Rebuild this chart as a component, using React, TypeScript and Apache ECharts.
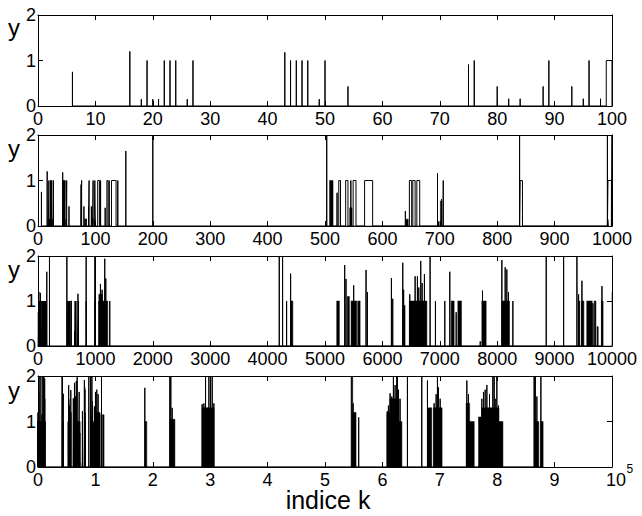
import React, { useEffect, useRef } from 'react';
import * as echarts from 'echarts';

// [start, end, height] : a pulse of the signal y(k)
type Pulse = [number, number, number];

// ---- Signal, detail level 0..100 (visible in panel 1)
const PULSES_0_100: Pulse[] = [
  [6, 6, 0.75], [16, 16, 1.2], [18, 18, 0.15], [19, 19, 1], [20, 20, 0.15], [21, 21, 0.15],
  [22, 22, 1], [23, 23, 1], [24, 24, 1], [26, 26, 0.15], [27, 27, 1], [43, 43, 1.18],
  [44, 44, 1], [45, 45, 1], [46, 46, 1], [47, 47, 1], [49, 49, 0.15], [50, 50, 1],
  [54, 54, 0.43], [75, 75, 0.91], [76, 76, 1], [80, 80, 0.43], [82, 82, 0.16], [84, 84, 0.16],
  [88, 88, 0.43], [89, 89, 1], [93, 93, 0.43], [95, 95, 0.16], [96, 96, 1], [98, 98, 0.16],
  [99, 100, 1],
];

// ---- Signal, detail level 100..1000 (panel 2)
const PULSES_100_1000: Pulse[] = [
  [104, 107, 1], [109, 109, 1], [117, 117, 0.4], [120, 122, 1], [124, 124, 1], [128, 136, 1],
  [139, 139, 1], [153, 153, 1.65], [200, 200, 2], [503, 503, 2], [521, 521, 0.73], [524, 527, 1],
  [536, 540, 1], [545, 545, 1], [549, 554, 1], [569, 583, 1], [640, 640, 0.33], [647, 651, 1],
  [653, 657, 1], [660, 665, 1], [696, 696, 1.16], [703, 703, 0.59], [706, 706, 1], [839, 839, 2],
  [840, 844, 1], [992, 992, 2], [993, 999, 1], [1000, 1000, 2],
];
const FILLS_100_1000: Pulse[] = [
  [508, 514, 1], [543, 547, 0.4], [641, 645, 0.15], [697, 699, 0.1], [701, 704, 0.55], [993, 994, 0.15],
];

// ---- Signal, detail level 1000..10000 (panel 3)
const PULSES_1E3_1E4: Pulse[] = [
  [1064, 1064, 1.0], [1088, 1088, 1.38], [1117, 1117, 1.25], [1163, 1163, 1.94], [1181, 1181, 1.5],
  [1250, 1250, 1.0], [4203, 4203, 2], [4261, 4261, 2], [4331, 4331, 1.0], [4401, 4401, 1.61],
  [5343, 5343, 1.8], [5366, 5366, 1.49], [5500, 5500, 1.35], [5715, 5715, 1.69], [5738, 5738, 1.2],
  [6157, 6157, 1.51], [6180, 6180, 1.05], [6355, 6355, 1.85], [6370, 6370, 1.25], [6477, 6477, 1.15],
  [6570, 6570, 1.55], [6610, 6610, 1.55], [6634, 6634, 1.3], [6668, 6668, 1.89], [6692, 6692, 1.4],
  [6732, 6732, 1.6], [6831, 6831, 2], [6924, 6924, 1.0], [7087, 7087, 1.0], [7174, 7174, 1.65],
  [7285, 7285, 0.75], [7744, 7744, 1.23], [8081, 8081, 1.91], [8139, 8139, 1.75], [8168, 8168, 1.7],
  [8197, 8197, 1.2], [8273, 8273, 1.0], [8854, 8854, 2], [9157, 9157, 2], [9389, 9389, 2],
  [9418, 9418, 1.15], [9476, 9476, 1.45], [9668, 9668, 0.95], [9825, 9825, 1.33],
];
const FILLS_1E3_1E4: Pulse[] = [
  [1060, 1120, 1.15], [1120, 1215, 1.0], [4405, 4440, 1.0], [5204, 5250, 1.0], [5388, 5425, 1.1],
  [5454, 5552, 1.0], [5570, 5612, 1.0], [6355, 6395, 0.9], [6470, 6775, 1.0], [7198, 7250, 1.0],
  [7314, 7378, 1.0], [7697, 7715, 0.1], [7732, 7808, 1.0], [8082, 8215, 1.0], [9418, 9440, 1.0],
  [9470, 9510, 1.0], [9560, 9655, 1.0], [9690, 9720, 1.0], [9740, 9760, 0.43], [9815, 9845, 1.0],
];

// ---- Signal, detail level 10000..100000 (panel 4)
const PULSES_1E4_1E5: Pulse[] = [
  [10010, 10010, 1.65], [10240, 10240, 1.7], [10470, 10470, 1.6], [10760, 10760, 1.15], [11060, 11060, 2],
  [18610, 18610, 1.74], [22970, 22970, 2], [23140, 23140, 2], [23370, 23370, 1.3],
  [28600, 28600, 1.38], [28900, 28900, 1.4], [29190, 29190, 2], [29480, 29480, 1.3], [29770, 29770, 2],
  [30060, 30060, 2], [30350, 30350, 2], [30640, 30640, 1.4], [54900, 54900, 1.4], [55870, 55870, 1.09],
  [60870, 60870, 1.23], [61050, 61050, 1.35], [61340, 61340, 1.62], [61630, 61630, 1.55], [61920, 61920, 2],
  [62210, 62210, 1.8], [62500, 62500, 2], [62620, 62620, 2], [62790, 62790, 1.7], [63080, 63080, 1.5],
  [64360, 64360, 2], [66860, 66860, 2], [67850, 67850, 1.9], [69010, 69010, 1.4], [69360, 69360, 1.6],
  [69590, 69590, 2], [69770, 69770, 1.75], [70060, 70060, 1.5], [74710, 74710, 1.9], [75000, 75000, 1.6],
  [77320, 77320, 1.5], [77610, 77610, 1.65], [77900, 77900, 1.7], [78200, 78200, 1.8], [78660, 78660, 1.6],
  [79240, 79240, 2], [79470, 79470, 2], [79650, 79650, 1.5], [79940, 79940, 2], [80230, 80230, 1.35],
  [86450, 86450, 2], [86620, 86620, 2], [86910, 86910, 1.55], [87610, 87610, 2],
];
const FILLS_1E4_1E5: Pulse[] = [
  [10000, 10800, 1.2], [11230, 11510, 1.15], [18650, 18950, 1.0], [22970, 23850, 1.05], [28600, 30650, 1.3],
  [54540, 54830, 2], [54830, 55410, 1.2], [60760, 61300, 1.2], [61300, 62900, 1.5], [62900, 63400, 1.0],
  [67900, 68600, 1.3], [68900, 70400, 1.3], [74590, 75200, 1.4], [75200, 76000, 1.0], [76740, 77300, 1.1],
  [77300, 80300, 1.3], [80300, 81000, 1.0], [86450, 86620, 2], [86620, 87250, 1.0], [87610, 88000, 1.0],
];

// Axis ranges of the four panels and y ticks
const X_MAX = [100, 1000, 10000, 100000];
const Y_MIN = 0;
const Y_MAX = 2;
const Y_STEP = 1;
const Y_LABEL = 'y';
const X_NAME = 'indice k';
const X_EXPONENT = '5';

const ALL_PULSES: Pulse[] = [...PULSES_0_100, ...PULSES_100_1000, ...PULSES_1E3_1E4, ...PULSES_1E4_1E5];
const ALL_FILLS: Pulse[] = [...FILLS_100_1000, ...FILLS_1E3_1E4, ...FILLS_1E4_1E5];

function toLine(p: Pulse[]): number[][] {
  const pts: number[][] = [];
  for (const [s, e, h] of p) {
    pts.push([s, 0], [s, h]);
    if (e !== s) pts.push([e, h]);
    pts.push([e, 0]);
  }
  return pts;
}

const FONT = "'Liberation Sans', Arial, Helvetica, sans-serif";

export default function App() {
  const ref = useRef<HTMLDivElement>(null);
  useEffect(() => {
    if (!ref.current) return;
    const chart = echarts.init(ref.current, undefined, { renderer: 'svg' });
    const tops = [15, 135, 256, 376];
    const heights = [91, 91, 90, 91];
    const grid: any[] = [];
    const xAxis: any[] = [];
    const yAxis: any[] = [];
    const series: any[] = [];
    const black = '#000';
    X_MAX.forEach((max, i) => {
      grid.push({ left: 38, right: 30, top: tops[i], height: heights[i], outerBoundsMode: 'none', containLabel: false });
      const base = {
        type: 'value', gridIndex: i, min: 0, max, interval: max / 10,
        axisLine: { show: true, onZero: false, lineStyle: { color: black, width: 1 } },
        axisTick: { show: true, inside: true, length: 5, lineStyle: { color: black, width: 1 } },
        splitLine: { show: false },
      };
      xAxis.push({
        ...base, position: 'bottom',
        axisLabel: {
          show: true, color: black, fontSize: 18, lineHeight: 14, fontFamily: FONT, margin: 6,
          formatter: i === 3 ? (v: number) => (v >= 100000 ? '{a|10}' : String(Math.round(v / 10000))) : (v: number) => String(v),
          rich: { a: { fontSize: 18, lineHeight: 14, fontFamily: FONT, color: black, padding: [0, 0, 0, 8] } },
        },
      });
      xAxis.push({ ...base, position: 'top', axisLabel: { show: false } });
      const ybase = {
        type: 'value', gridIndex: i, min: Y_MIN, max: Y_MAX, interval: Y_STEP,
        axisLine: { show: true, onZero: false, lineStyle: { color: black, width: 1 } },
        axisTick: { show: true, inside: true, length: 5, lineStyle: { color: black, width: 1 } },
        splitLine: { show: false },
      };
      yAxis.push({
        ...ybase, position: 'left',
        axisLabel: { show: true, color: black, fontSize: 18, lineHeight: 14, fontFamily: FONT, margin: 2 },
      });
      yAxis.push({ ...ybase, position: 'right', axisLabel: { show: false } });
      series.push({
        type: 'line', xAxisIndex: 2 * i, yAxisIndex: 2 * i, showSymbol: false, symbol: 'none', silent: true,
        clip: true, lineStyle: { color: black, width: 1 },
        data: toLine(ALL_PULSES.filter((p) => p[0] <= max)),
      });
      const fills = ALL_FILLS.filter((p) => p[0] <= max);
      if (fills.length) {
        series.push({
          type: 'line', xAxisIndex: 2 * i, yAxisIndex: 2 * i, showSymbol: false, symbol: 'none', silent: true,
          clip: true, lineStyle: { color: black, width: 0.5 }, areaStyle: { color: black, opacity: 1 },
          data: toLine(fills),
        });
      }
    });
    const yLabelY = [27, 148, 269, 390];
    const graphic: any[] = yLabelY.map((y) => ({
      type: 'text', x: 14, y, silent: true,
      style: { text: Y_LABEL, fontSize: 24, lineHeight: 18, fontFamily: FONT, fill: black, align: 'center', verticalAlign: 'middle', textAlign: 'center', textVerticalAlign: 'middle' },
    }));
    graphic.push({
      type: 'text', x: 328, y: 500, silent: true,
      style: { text: X_NAME, fontSize: 25, lineHeight: 20, fontFamily: FONT, fill: black, align: 'center', verticalAlign: 'middle', textAlign: 'center', textVerticalAlign: 'middle' },
    });
    graphic.push({
      type: 'text', x: 626.5, y: 469, silent: true,
      style: { text: X_EXPONENT, fontSize: 12, lineHeight: 10, fontFamily: FONT, fill: black, align: 'left', verticalAlign: 'middle', textAlign: 'left', textVerticalAlign: 'middle' },
    });
    chart.setOption({ animation: false, grid, xAxis, yAxis, series, graphic });
    return () => chart.dispose();
  }, []);
  return <div ref={ref} style={{ position: 'absolute', left: 0, top: 0, width: 642, height: 516 }} />;
}
